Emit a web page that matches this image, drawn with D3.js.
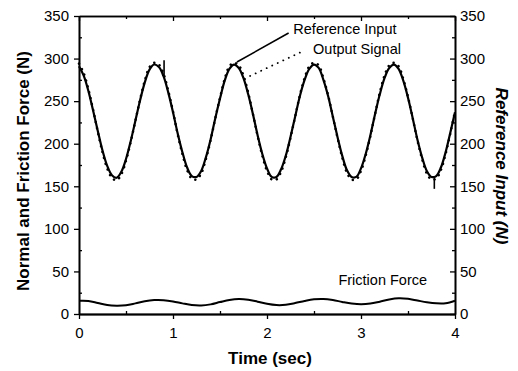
<!DOCTYPE html>
<html>
<head>
<meta charset="utf-8">
<script src="https://cdn.jsdelivr.net/npm/d3@7"></script>
<style>
  body { margin: 0; background: #fff; }
  svg { display: block; font-family: "Liberation Sans", Arial, sans-serif; }
</style>
</head>
<body>
<script>
// reference input, sampled every 0.05 s from 0 to 4 s
var refInput = [291, 280, 262, 239, 215, 192, 174, 163, 160, 167,
                182, 203, 227, 251, 272, 287, 293, 290, 279, 260,
                237, 212, 190, 172, 162, 161, 168, 184, 205, 230,
                253, 274, 288, 293, 289, 277, 258, 235, 210, 188,
                171, 161, 161, 170, 186, 208, 232, 256, 275, 288,
                293, 289, 275, 256, 232, 208, 186, 169, 161, 161,
                171, 188, 210, 235, 258, 277, 289, 293, 288, 274,
                254, 230, 205, 184, 168, 161, 162, 172, 190, 213, 237];

// output signal, same sampling
var outputSignal = [294, 283, 264, 240, 214, 190, 171, 160, 157, 164,
                    180, 202, 227, 252, 274, 290, 295, 293, 282, 262,
                    238, 211, 188, 169, 159, 158, 165, 182, 204, 230,
                    254, 276, 291, 295, 292, 280, 260, 235, 209, 186,
                    168, 158, 158, 167, 184, 207, 232, 257, 277, 291,
                    295, 292, 277, 257, 232, 207, 184, 166, 158, 158,
                    168, 186, 209, 235, 260, 280, 292, 295, 291, 276,
                    255, 230, 204, 182, 165, 158, 159, 169, 188, 212, 238];

// friction force, sampled every 0.1 s
var friction = [15.6, 15.4, 13.0, 10.5, 9.8, 10.3, 12.5, 15.0, 16.3, 16.2,
                14.8, 12.5, 10.5, 10.0, 11.3, 14.0, 16.5, 17.6, 16.8, 14.5,
                12.0, 10.5, 10.8, 12.8, 15.3, 17.2, 17.6, 16.4, 14.2, 12.3,
                11.4, 12.2, 14.5, 17.0, 18.4, 17.8, 15.8, 13.8, 12.5, 12.6, 15.6];

// glitches in the reference trace: [time, from, to]
var spikes = [[0.905, 280, 298], [3.78, 162, 147]];

var yTicks = [0, 50, 100, 150, 200, 250, 300, 350];
var yMinor = [25, 75, 125, 175, 225, 275, 325];
var xTicks = [0, 1, 2, 3, 4];
var xMinor = [0.5, 1.5, 2.5, 3.5];

var refStep = 0.05;
var fricStep = 0.1;

var w = 518;
var h = 371;

var x = d3.scaleLinear().domain([0, 4]).range([79, 455]);
var y = d3.scaleLinear().domain([0, 350]).range([314, 16]);

var svg = d3.select("body")
  .append("svg")
  .attr("width", w)
  .attr("height", h);

function styleAxis(g) {
  g.attr("font-size", 15)
    .attr("font-family", "\"Liberation Sans\", Arial, sans-serif");
  g.select(".domain").attr("stroke-width", 1.6);
  g.selectAll(".tick line").attr("stroke-width", 1.3);
  g.selectAll(".tick text").attr("fill", "#000");
}

// major axes
svg.append("g")
  .attr("transform", "translate(79,0)")
  .call(d3.axisLeft(y).tickValues(yTicks).tickSize(5).tickPadding(5).tickSizeOuter(0))
  .call(styleAxis);

svg.append("g")
  .attr("transform", "translate(455,0)")
  .call(d3.axisRight(y).tickValues(yTicks).tickSize(-5).tickPadding(5).tickSizeOuter(0))
  .call(styleAxis);

svg.append("g")
  .attr("transform", "translate(0,314)")
  .call(d3.axisBottom(x).tickValues(xTicks).tickFormat(d3.format("d"))
    .tickSize(5).tickPadding(8).tickSizeOuter(0))
  .call(styleAxis)
  .call(g => g.select(".domain").attr("stroke-width", 2.2));

svg.append("g")
  .attr("transform", "translate(0,16)")
  .call(d3.axisTop(x).tickValues(xTicks).tickSize(-5).tickFormat("").tickSizeOuter(0))
  .call(styleAxis);

// minor ticks, pointing inward
svg.append("g")
  .attr("transform", "translate(79,0)")
  .call(d3.axisLeft(y).tickValues(yMinor).tickSize(-3).tickFormat("").tickSizeOuter(0))
  .call(styleAxis);

svg.append("g")
  .attr("transform", "translate(455,0)")
  .call(d3.axisRight(y).tickValues(yMinor).tickSize(-3).tickFormat("").tickSizeOuter(0))
  .call(styleAxis);

svg.append("g")
  .attr("transform", "translate(0,314)")
  .call(d3.axisBottom(x).tickValues(xMinor).tickSize(-3).tickFormat("").tickSizeOuter(0))
  .call(styleAxis);

svg.append("g")
  .attr("transform", "translate(0,16)")
  .call(d3.axisTop(x).tickValues(xMinor).tickSize(-3).tickFormat("").tickSizeOuter(0))
  .call(styleAxis);

// lines
var refLine = d3.line()
  .x((d, i) => x(i * refStep))
  .y(d => y(d))
  .curve(d3.curveCatmullRom);

var fricLine = d3.line()
  .x((d, i) => x(i * fricStep))
  .y(d => y(d))
  .curve(d3.curveCatmullRom);

svg.append("path")
  .datum(outputSignal)
  .attr("d", refLine)
  .attr("fill", "none")
  .attr("stroke", "#000")
  .attr("stroke-width", 2.5)
  .attr("stroke-linecap", "round")
  .attr("stroke-dasharray", "0.1,6");

svg.append("path")
  .datum(refInput)
  .attr("d", refLine)
  .attr("fill", "none")
  .attr("stroke", "#000")
  .attr("stroke-width", 2.2);

svg.selectAll(".spike")
  .data(spikes)
  .enter()
  .append("line")
  .attr("class", "spike")
  .attr("x1", d => x(d[0]))
  .attr("x2", d => x(d[0]))
  .attr("y1", d => y(d[1]))
  .attr("y2", d => y(d[2]))
  .attr("stroke", "#000")
  .attr("stroke-width", 1.6);

svg.append("path")
  .datum(friction)
  .attr("d", fricLine)
  .attr("fill", "none")
  .attr("stroke", "#000")
  .attr("stroke-width", 2);

// annotations, placed in data units
svg.append("line")
  .attr("x1", x(2.23)).attr("y1", y(330))
  .attr("x2", x(1.68)).attr("y2", y(296))
  .attr("stroke", "#000")
  .attr("stroke-width", 1.6);

svg.append("line")
  .attr("x1", x(2.35)).attr("y1", y(307))
  .attr("x2", x(1.77)).attr("y2", y(277))
  .attr("stroke", "#000")
  .attr("stroke-width", 1.8)
  .attr("stroke-linecap", "round")
  .attr("stroke-dasharray", "0.1,6");

svg.append("text")
  .attr("x", x(2.28)).attr("y", y(329))
  .attr("font-size", 14.5)
  .text("Reference Input");

svg.append("text")
  .attr("x", x(2.49)).attr("y", y(305))
  .attr("font-size", 14.5)
  .text("Output Signal");

svg.append("text")
  .attr("x", x(2.76)).attr("y", y(34))
  .attr("font-size", 14.5)
  .text("Friction Force");

// axis titles
svg.append("text")
  .attr("transform", "translate(29,171) rotate(-90)")
  .attr("text-anchor", "middle")
  .attr("font-size", 17)
  .attr("font-weight", "bold")
  .text("Normal and Friction Force (N)");

svg.append("text")
  .attr("transform", "translate(496,166) rotate(90)")
  .attr("text-anchor", "middle")
  .attr("font-size", 17)
  .attr("font-weight", "bold")
  .attr("font-style", "italic")
  .text("Reference Input (N)");

svg.append("text")
  .attr("x", 270)
  .attr("y", 364)
  .attr("text-anchor", "middle")
  .attr("font-size", 17)
  .attr("font-weight", "bold")
  .text("Time (sec)");
</script>
</body>
</html>
